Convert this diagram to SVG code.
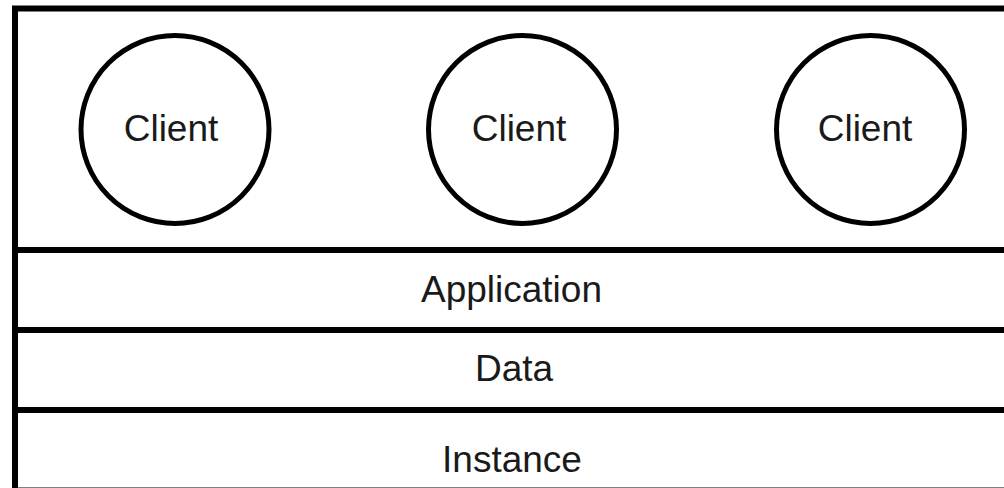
<svg xmlns="http://www.w3.org/2000/svg" width="1004" height="488" viewBox="0 0 1004 488">
  <style>
    .frame { fill: #fff; stroke: #000; stroke-width: 6; }
    .div { stroke: #000; stroke-width: 6; fill: none; }
    .client { fill: #fff; stroke: #000; stroke-width: 5; }
    .lbl { font-family: "Liberation Sans", Arial, Helvetica, sans-serif; font-size: 37px; fill: #1a1a1a; text-anchor: middle; }
  </style>
  <rect width="1004" height="488" fill="#fff"/>

  <!-- outer frame -->
  <g id="frame">
    <rect class="frame" x="15" y="8.5" width="1000" height="482"/>
  </g>

  <!-- layer dividers -->
  <g id="connectors">
    <line class="div" x1="15" y1="250" x2="1015" y2="250"/>
    <line class="div" x1="15" y1="330" x2="1015" y2="330"/>
    <line class="div" x1="15" y1="410" x2="1015" y2="410"/>
  </g>

  <!-- clients -->
  <g id="client-1">
    <circle class="client" cx="175" cy="129.5" r="94"/>
    <text class="lbl" x="171" y="141">Client</text>
  </g>
  <g id="client-2">
    <circle class="client" cx="522.5" cy="129.5" r="94"/>
    <text class="lbl" x="519" y="141">Client</text>
  </g>
  <g id="client-3">
    <circle class="client" cx="870.5" cy="129.5" r="94"/>
    <text class="lbl" x="865" y="141">Client</text>
  </g>

  <!-- layers -->
  <g id="application">
    <text class="lbl" x="511.5" y="302">Application</text>
  </g>
  <g id="data">
    <text class="lbl" x="514" y="381">Data</text>
  </g>
  <g id="instance">
    <text class="lbl" x="512" y="472">Instance</text>
  </g>
</svg>
